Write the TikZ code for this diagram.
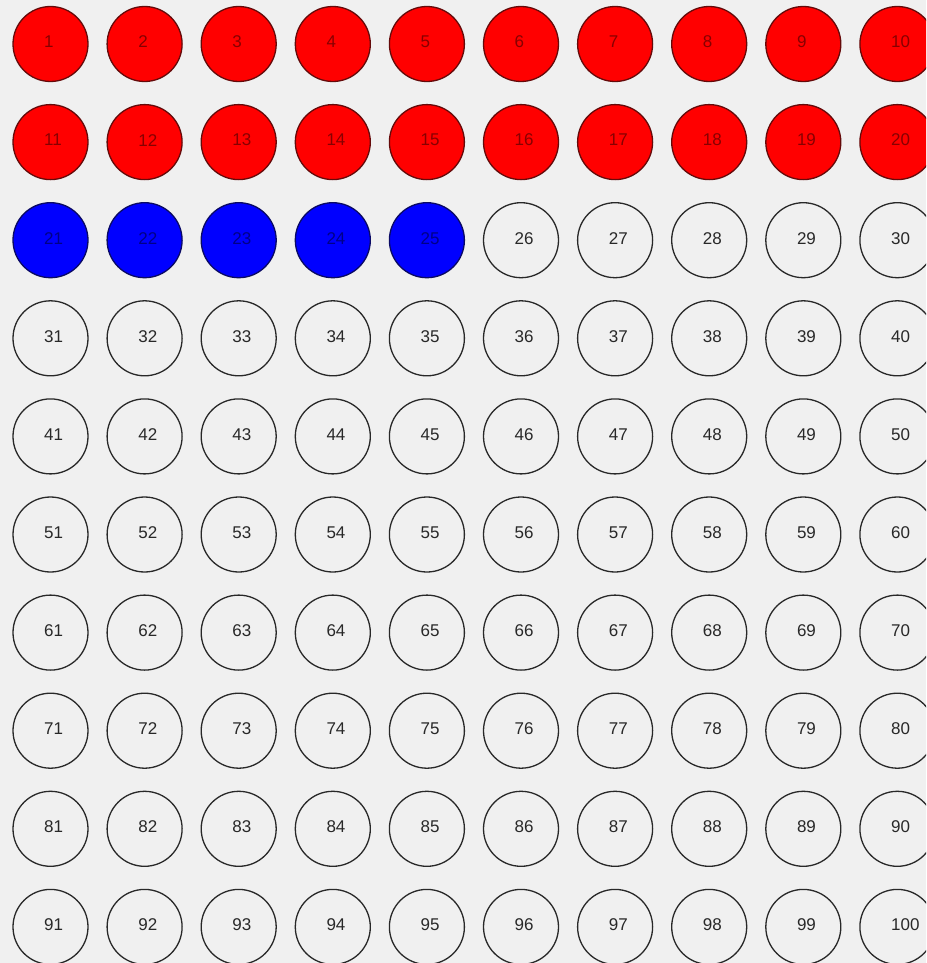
\documentclass[tikz,border=0pt]{standalone}
\usepackage{fontspec}
\setmainfont{Liberation Sans}
\definecolor{bg}{RGB}{240,240,240}
\definecolor{redfill}{RGB}{255,0,0}
\definecolor{reddraw}{RGB}{100,10,10}
\definecolor{redtext}{RGB}{135,0,0}
\definecolor{bluefill}{RGB}{0,0,255}
\definecolor{bluedraw}{RGB}{10,10,100}
\definecolor{bluetext}{RGB}{0,0,135}
\definecolor{plaindraw}{RGB}{40,40,40}
\definecolor{plaintext}{RGB}{40,40,40}
\begin{document}
\begin{tikzpicture}[x=1pt,y=-1pt,
  ball/.style={circle,line width=1.3pt,minimum size=75pt,inner sep=0pt,fill=fillc,draw=drawc},
  num/.style={anchor=west,inner sep=0pt,text=textc,font=\fontsize{17}{17}\selectfont}]
\useasboundingbox (0,0) rectangle (926,963);
\fill[bg] (0,0) rectangle (926,963);
\clip (0,0) rectangle (926,963);
\foreach \r in {0,...,9}{
  \foreach \c in {0,...,9}{
    \pgfmathtruncatemacro\n{\r*10+\c+1}
    \pgfmathsetmacro\cx{50.5+94.1*\c}
    \pgfmathsetmacro\cy{44+98.1*\r}
    \ifnum\n<21
      \colorlet{fillc}{redfill}\colorlet{drawc}{reddraw}\colorlet{textc}{redtext}
    \else\ifnum\n<26
      \colorlet{fillc}{bluefill}\colorlet{drawc}{bluedraw}\colorlet{textc}{bluetext}
    \else
      \colorlet{fillc}{bg}\colorlet{drawc}{plaindraw}\colorlet{textc}{plaintext}
    \fi\fi
    \node[ball] (c\n) at (\cx,\cy) {};
    \node[num] (t\n) at ([xshift=-6.5pt,yshift=2pt]c\n.center) {\n};
  }
}
\end{tikzpicture}
\end{document}
